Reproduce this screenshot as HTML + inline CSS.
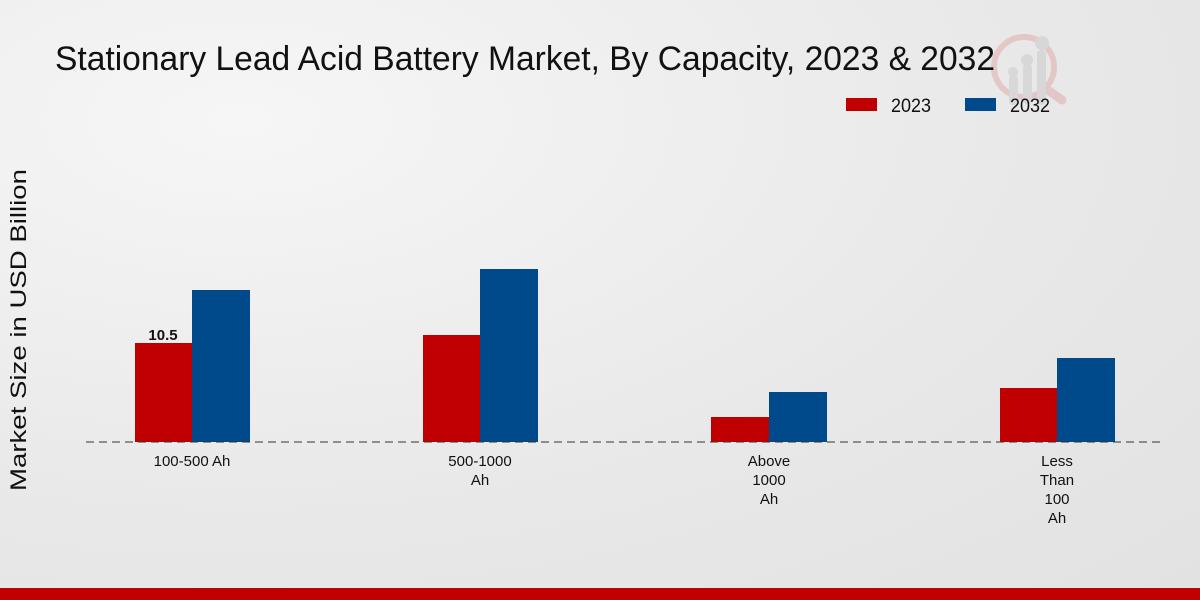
<!DOCTYPE html>
<html><head><meta charset="utf-8"><style>
html,body{margin:0;padding:0;}
body{width:1200px;height:600px;overflow:hidden;background:radial-gradient(ellipse at 20% 20%,#f6f6f6 0%,#e8e8e8 60%,#e2e2e2 100%);}
</style></head><body>
<svg width="1200" height="600" xmlns="http://www.w3.org/2000/svg" style="position:absolute;left:0;top:0;font-family:'Liberation Sans',sans-serif">
<g opacity="0.5">
<circle cx="1024" cy="67" r="30" fill="none" stroke="#e0a8a8" stroke-width="6"/>
<line x1="1045" y1="88" x2="1062" y2="100" stroke="#e0a8a8" stroke-width="9" stroke-linecap="round"/>
<rect x="1009" y="75" width="9" height="30" rx="4" fill="#c8c8c8"/>
<rect x="1023" y="64" width="9" height="40" rx="4" fill="#c8c8c8"/>
<rect x="1037" y="50" width="9" height="55" rx="4" fill="#c8c8c8"/>
<circle cx="1013" cy="72" r="5" fill="#c8c8c8"/><circle cx="1027" cy="60" r="6" fill="#c8c8c8"/><circle cx="1042" cy="43" r="7" fill="#c8c8c8"/>
</g>
<text x="55" y="70" font-size="34" textLength="940" lengthAdjust="spacingAndGlyphs" fill="#111">Stationary Lead Acid Battery Market, By Capacity, 2023 &amp; 2032</text>
<rect x="846" y="98" width="31" height="13" fill="#c00000"/>
<text x="891" y="112" font-size="19" textLength="40" lengthAdjust="spacingAndGlyphs" fill="#111">2023</text>
<rect x="965" y="98" width="31" height="13" fill="#004a8c"/>
<text x="1010" y="112" font-size="19" textLength="40" lengthAdjust="spacingAndGlyphs" fill="#111">2032</text>
<text transform="translate(26,330) rotate(-90)" text-anchor="middle" font-size="22" fill="#111" textLength="322" lengthAdjust="spacingAndGlyphs">Market Size in USD Billion</text>
<rect x="135" y="343" width="57" height="99" fill="#c00000"/>
<rect x="192" y="290" width="58" height="152" fill="#004a8c"/>
<rect x="423" y="335" width="57" height="107" fill="#c00000"/>
<rect x="480" y="269" width="58" height="173" fill="#004a8c"/>
<rect x="711" y="417" width="58" height="25" fill="#c00000"/>
<rect x="769" y="392" width="58" height="50" fill="#004a8c"/>
<rect x="1000" y="388" width="57" height="54" fill="#c00000"/>
<rect x="1057" y="358" width="58" height="84" fill="#004a8c"/>
<line x1="86" y1="442" x2="1165" y2="442" stroke="#333" stroke-width="1" stroke-dasharray="8,5"/>
<text x="163" y="340" text-anchor="middle" font-size="15" font-weight="bold" fill="#111">10.5</text>
<g font-size="15" fill="#111" text-anchor="middle">
<text x="192" y="466">100-500 Ah</text>
<text x="480" y="466">500-1000</text><text x="480" y="485">Ah</text>
<text x="769" y="466">Above</text><text x="769" y="485">1000</text><text x="769" y="504">Ah</text>
<text x="1057" y="466">Less</text><text x="1057" y="485">Than</text><text x="1057" y="504">100</text><text x="1057" y="523">Ah</text>
</g>
<rect x="0" y="588" width="1200" height="12" fill="#c00000"/>
</svg>
</body></html>
